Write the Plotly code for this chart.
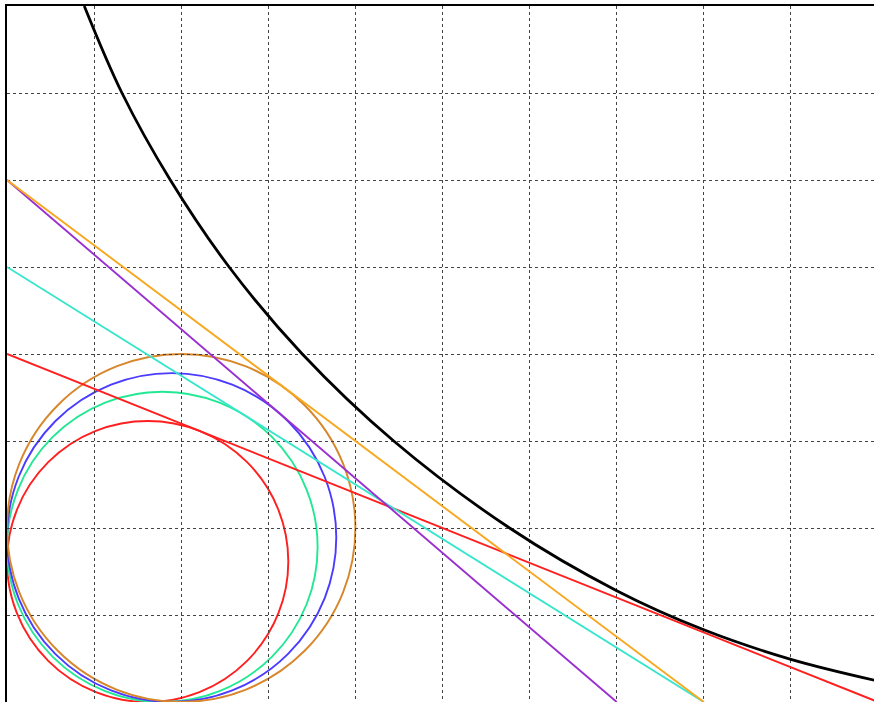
import plotly.graph_objects as go
import math

# Tangent lines: x-intercept, y-intercept
line_names = ["red", "cyan", "purple", "orange"]
x_intercepts = [10, 8, 7, 8]
y_intercepts = [4, 5, 6, 6]
line_colors = ["#ff1f1f", "#38e6cc", "#9a2fd0", "#f8a820"]
circle_colors = ["#ff1f1f", "#22e894", "#4b3bff", "#d8862a"]

# Black curve points
curve_x = [0.887, 1.32, 1.875, 2.55, 3.39, 4.44, 5.77, 7.0, 8.0, 9.0, 9.96]
curve_y = [8.0, 7.0, 6.0, 5.0, 4.0, 3.0, 2.0, 1.28, 0.83, 0.49, 0.25]

fig = go.Figure()

shapes = []
for a, b, cc in zip(x_intercepts, y_intercepts, circle_colors):
    r = (a + b - math.hypot(a, b)) / 2  # inradius of right triangle with axes
    shapes.append(dict(type="circle", xref="x", yref="y", x0=0, y0=0, x1=2 * r, y1=2 * r,
                       line=dict(color=cc, width=1.9), layer="below"))

for a, b, lc in zip(x_intercepts, y_intercepts, line_colors):
    fig.add_trace(go.Scatter(x=[0, a], y=[b, 0], mode="lines",
                             line=dict(color=lc, width=1.9), showlegend=False, hoverinfo="skip"))

fig.add_trace(go.Scatter(x=curve_x, y=curve_y, mode="lines", line_shape="spline",
                         line=dict(color="black", width=2.8, smoothing=1.0),
                         showlegend=False, hoverinfo="skip"))

fig.update_layout(
    width=874, height=702,
    margin=dict(l=7, r=0, t=6, b=0),
    paper_bgcolor="white", plot_bgcolor="white",
    shapes=shapes,
    xaxis=dict(range=[0, 9.954], dtick=1, tick0=0, showticklabels=False, ticks="",
               showgrid=True, gridcolor="#444444", griddash="dot", gridwidth=1.2,
               zeroline=False, showline=True, linecolor="black", linewidth=2, side="top"),
    yaxis=dict(range=[0, 8], dtick=1, tick0=0, showticklabels=False, ticks="",
               showgrid=True, gridcolor="#444444", griddash="dot", gridwidth=1.2,
               zeroline=False, showline=True, linecolor="black", linewidth=2),
)

fig.write_html("out.html", config={"displayModeBar": False},
               post_script="document.body.style.margin='0px';")
